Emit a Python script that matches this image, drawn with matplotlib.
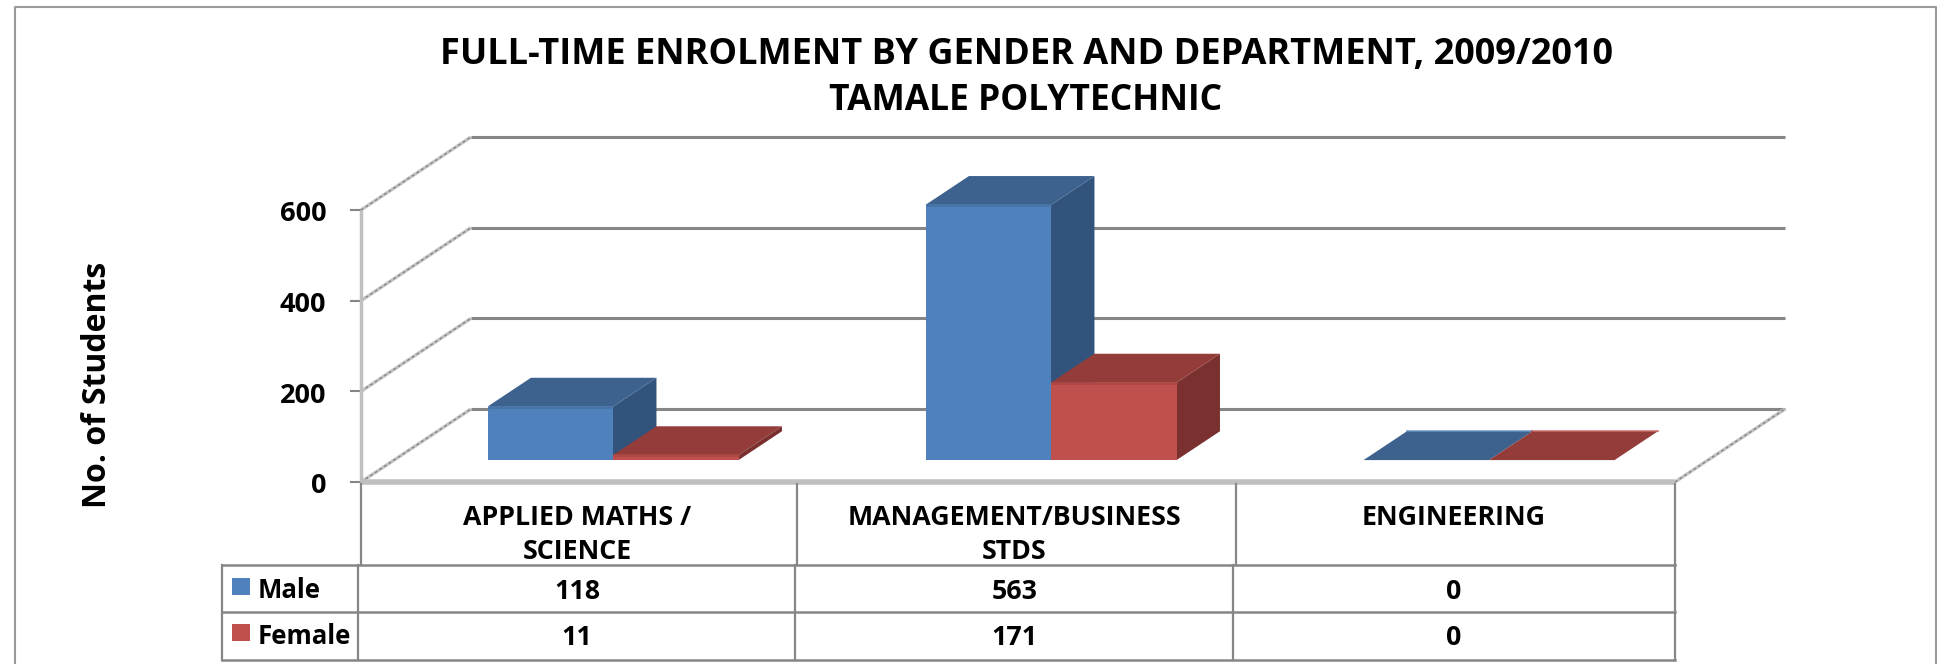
import matplotlib
matplotlib.use("Agg")
import matplotlib.pyplot as plt
from matplotlib.patches import Polygon, Rectangle

W, H = 1937, 664

departments = ["APPLIED MATHS /\nSCIENCE", "MANAGEMENT/BUSINESS\nSTDS", "ENGINEERING"]
male = [118, 563, 0]
female = [11, 171, 0]
y_ticks = [0, 200, 400, 600]

BLUE = ("#4f81bd", "#3d628e", "#32547c", "#4873a6")
RED = ("#c0504d", "#943c3a", "#7a302e", "#ad4845")
GRID = "#868686"
WALL = "#c0c0c0"
FONT = "Open Sans"

plt.rcParams["font.family"] = [FONT, "DejaVu Sans"]
plt.rcParams["font.weight"] = "bold"

fig = plt.figure(figsize=(W / 100, H / 100), dpi=100)

# overlay in pixels, for the frame and the data table
over = fig.add_axes([0, 0, 1, 1], zorder=3)
over.set_xlim(0, W)
over.set_ylim(H, 0)
over.axis("off")

# front plane of the 3d box
ax = fig.add_axes([361 / W, 1 - 482 / H, (1675 - 361) / W, (482 - 210) / H], zorder=2)
ax.set_xlim(0, 3)
ax.set_ylim(0, 600)
ax.axis("off")

# depth of the box and of the bars, in data units
DX = 110 / 438
DY = 73 / (272 / 600)
BAR_W = 125.5 / 438
BAR_X0 = 0.2135
D0, D1 = 0.30, 0.695


def line(xs, ys, color, lw, z=1):
    ax.plot(xs, ys, color=color, lw=lw, clip_on=False, zorder=z, solid_capstyle="butt")


def diagonal(xs, ys):
    # the slanted wall edges look speckled in the original
    line(xs, ys, "#c4c4c4", 2.4)
    ax.plot(xs, ys, color="#858585", lw=1, ls=(0, (2, 2)), clip_on=False, zorder=1)


for t in y_ticks:
    line([-11 * 3 / 1314, 0], [t, t], GRID, 1.5)
    diagonal([0, DX], [t, t + DY])
    line([DX, 3 + DX], [t + DY, t + DY], GRID, 2.2)
    ax.annotate(str(t), (0, t), xytext=(-25, -3), textcoords="offset points", ha="right", va="center",
                fontsize=19.5, annotation_clip=False)
diagonal([3, 3 + DX], [0, DY])
line([0, 0], [0, 600], WALL, 2.5, 2)
line([0, 3], [0, 0], WALL, 4, 2)


def bar(x, v, cols, z):
    x0 = x + D0 * DX
    x1 = x0 + BAR_W
    b0 = D0 * DY
    b = b0 + v
    ex = (D1 - D0) * DX
    ey = (D1 - D0) * DY
    ax.add_patch(Polygon([(x1, b0), (x1 + ex, b0 + ey), (x1 + ex, b + ey), (x1, b)], fc=cols[2], ec="none", zorder=z, clip_on=False))
    ax.add_patch(Polygon([(x0, b), (x1, b), (x1 + ex, b + ey), (x0 + ex, b + ey)], fc=cols[1], ec="none", zorder=z, clip_on=False))
    if v > 0:
        ax.add_patch(Rectangle((x0, b0), BAR_W, v, fc=cols[0], ec="none", zorder=z, clip_on=False))
        ax.plot([x0, x1], [b, b], color=cols[3], lw=2, solid_capstyle="butt", zorder=z, clip_on=False)
    else:
        ax.plot([x0 + ex, x1 + ex], [b + ey, b + ey], color=cols[0], alpha=0.6, lw=1.5, zorder=z, clip_on=False)


for i in range(len(departments)):
    bar(i + BAR_X0, male[i], BLUE, 3)
    bar(i + BAR_X0 + BAR_W, female[i], RED, 4)

# frame
over.plot([15, 15, 1936, 1936], [H, 7, 7, H], color="#9a9a9a", lw=1.5)

# data table
col_x = [361, 797, 1236, 1675]
for x in col_x:
    over.plot([x, x], [484, 565], color=GRID, lw=1.6)
for y in [565, 612, 660]:
    over.plot([222, 1675], [y, y], color=GRID, lw=1.8)
for x in [222, 358, 795, 1233, 1675]:
    over.plot([x, x], [565, 660], color=GRID, lw=1.6)

for i, name in enumerate(departments):
    cx = (col_x[i] + col_x[i + 1]) / 2 - 2
    lines = name.split("\n")
    for j, txt in enumerate(lines):
        over.text(cx, 518 + j * 34, txt, ha="center", va="center", fontsize=19.3)
    over.text(cx, 592, str(male[i]), ha="center", va="center", fontsize=19.3)
    over.text(cx, 638, str(female[i]), ha="center", va="center", fontsize=19.3)

over.add_patch(Rectangle((232, 578), 18, 17, fc=BLUE[0], ec="none"))
over.add_patch(Rectangle((232, 624), 18, 17, fc=RED[0], ec="none"))
over.text(258, 590, "Male", ha="left", va="center", fontsize=18.5)
over.text(258, 636, "Female", ha="left", va="center", fontsize=18.5)

over.text(1027, 55, "FULL-TIME ENROLMENT BY GENDER AND DEPARTMENT, 2009/2010", ha="center", va="center", fontsize=26)
over.text(1026, 101, "TAMALE POLYTECHNIC", ha="center", va="center", fontsize=25.5)
over.text(98, 385, "No. of Students", rotation=90, ha="center", va="center", fontsize=23)

fig.savefig("out.png", dpi=100)
